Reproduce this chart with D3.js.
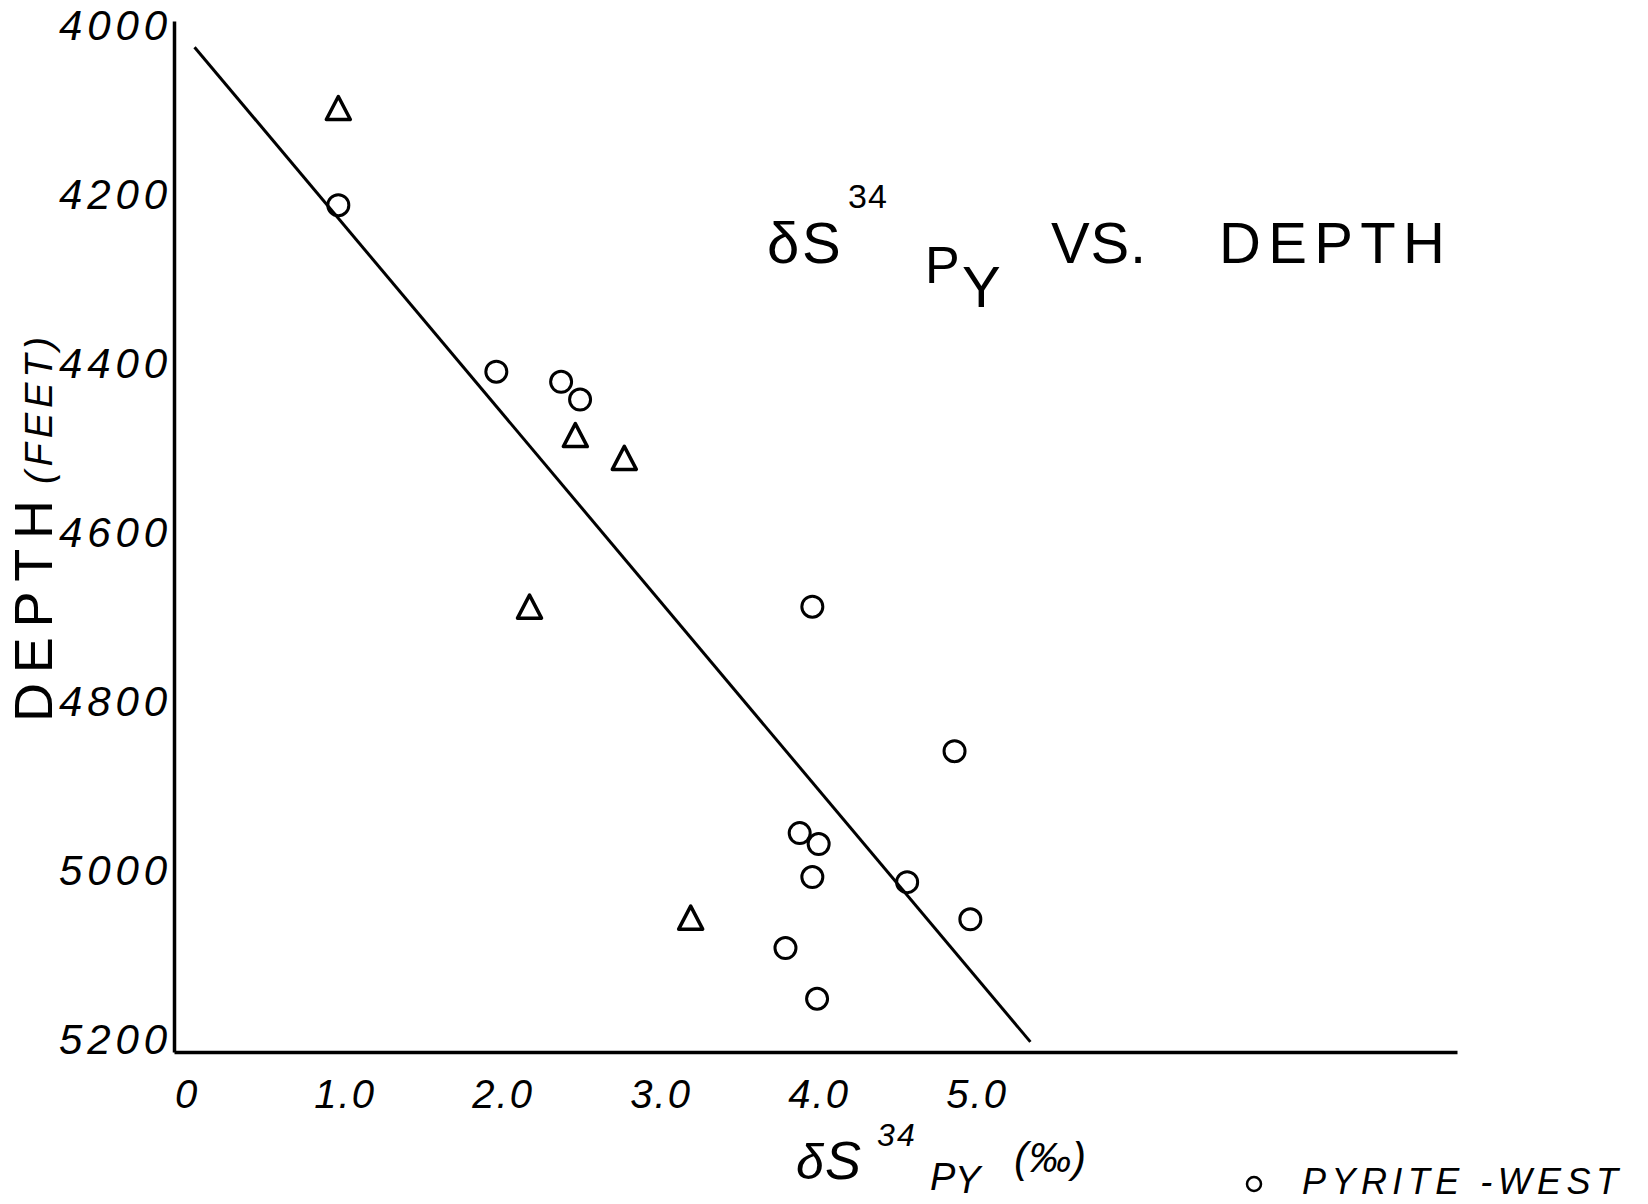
<!DOCTYPE html>
<html><head><meta charset="utf-8">
<script src="https://cdn.jsdelivr.net/npm/d3@7"></script>
<style>html,body{margin:0;padding:0;background:#fff;overflow:hidden}</style>
</head><body>
<svg id="chart" width="1648" height="1204"></svg>
<script>
// ---- data ----
const yTickValues = [4000, 4200, 4400, 4600, 4800, 5000, 5200];
const yTickLabels = ["4000", "4200", "4400", "4600", "4800", "5000", "5200"];
const xTickValues = [0, 1, 2, 3, 4, 5];
const xTickLabels = ["0", "1.0", "2.0", "3.0", "4.0", "5.0"];

// Pyrite - West (circles)
const westX     = [0.96, 1.96, 2.37, 2.49, 3.96, 4.86, 3.88, 4.00, 3.96, 4.56, 4.96, 3.79, 3.99];
const westDepth = [4198, 4395, 4407, 4428, 4673, 4844, 4941, 4954, 4993, 4999, 5043, 5077, 5137];

// second series (triangles)
const triX     = [0.96, 2.46, 2.77, 2.17, 3.19];
const triDepth = [4083, 4470, 4497, 4673, 5041];

// fitted line end points
const fitX     = [0.05, 5.34];
const fitDepth = [4011, 5188];

const legendLabel = "PYRITE -WEST";

// ---- drawing ----
const FONT = "'Liberation Sans Narrow','Liberation Sans',sans-serif";
const svg = d3.select("#chart");
svg.append("rect").attr("width", 1648).attr("height", 1204).attr("fill", "#fff");

const x = d3.scaleLinear().domain([-0.08, 8.04]).range([174, 1457]);
const y = d3.scaleLinear().domain([3980, 5200]).range([21, 1052]);

// x axis
const xAxis = svg.append("g").attr("transform", `translate(0,${y(5200)})`)
  .call(d3.axisBottom(x).tickValues(xTickValues).tickFormat((d, i) => xTickLabels[i])
        .tickSize(0).tickSizeOuter(0).tickPadding(28));
xAxis.select(".domain").attr("stroke", "#000").attr("stroke-width", 3.5);
xAxis.selectAll("text").attr("font-family", FONT).attr("font-size", 40)
  .attr("font-style", "italic").attr("fill", "#000").attr("letter-spacing", 2);

// y axis
const yAxis = svg.append("g").attr("transform", `translate(${x(-0.08)},0)`)
  .call(d3.axisLeft(y).tickValues(yTickValues).tickFormat((d, i) => yTickLabels[i])
        .tickSize(0).tickSizeOuter(0).tickPadding(7));
yAxis.select(".domain").attr("stroke", "#000").attr("stroke-width", 3.5);
yAxis.selectAll("text").attr("font-family", FONT).attr("font-size", 42)
  .attr("font-style", "italic").attr("fill", "#000").attr("y", -12)
  .attr("textLength", 108).attr("lengthAdjust", "spacing");

// fit line
svg.append("path")
  .datum(fitX.map((v, i) => [v, fitDepth[i]]))
  .attr("d", d3.line().x(d => x(d[0])).y(d => y(d[1])))
  .attr("fill", "none").attr("stroke", "#000").attr("stroke-width", 3);

// circles
svg.append("g").selectAll("circle")
  .data(westX.map((v, i) => ({x: v, d: westDepth[i]})))
  .join("circle")
  .attr("cx", d => x(d.x)).attr("cy", d => y(d.d)).attr("r", 10.5)
  .attr("fill", "none").attr("stroke", "#000").attr("stroke-width", 3);

// triangles
const triPath = (w, h) => `M0,${-h/2}L${w/2},${h/2}L${-w/2},${h/2}Z`;
svg.append("g").selectAll("path")
  .data(triX.map((v, i) => ({x: v, d: triDepth[i]})))
  .join("path")
  .attr("transform", d => `translate(${x(d.x)},${y(d.d)})`)
  .attr("d", triPath(24, 23))
  .attr("fill", "none").attr("stroke", "#000").attr("stroke-width", 3.5)
  .attr("stroke-linejoin", "round");

// title
const title = svg.append("g").attr("font-family", FONT).attr("fill", "#000");
function txt(g, s, px, py, size, len, style) {
  return g.append("text").attr("x", px).attr("y", py).attr("font-size", size)
    .attr("font-style", style || "normal")
    .attr("textLength", len).attr("lengthAdjust", "spacing").text(s);
}
txt(title, "δ", 767, 263, 58, 22);
txt(title, "S", 802, 263, 58, 38);
txt(title, "3", 848, 208, 34, 16);
txt(title, "4", 868, 208, 34, 16);
txt(title, "P", 925, 283, 52, 22);
txt(title, "Y", 962, 307, 58, 36);
txt(title, "VS.", 1051, 263, 58, 95);
txt(title, "DEPTH", 1219, 263, 58, 226);

// y axis label (rotated)
const yl = svg.append("g").attr("transform", "translate(52,722) rotate(-90)")
  .attr("font-family", FONT).attr("fill", "#000");
txt(yl, "DEPTH", 0, 0, 54, 222);
txt(yl, "(FEET)", 238, 0, 38, 147, "italic");

// x axis label
const xl = svg.append("g").attr("font-family", FONT).attr("fill", "#000");
txt(xl, "δ", 796, 1179, 50, 20, "italic");
txt(xl, "S", 825, 1179, 54, 37, "italic");
txt(xl, "3", 877, 1146, 32, 15, "italic");
txt(xl, "4", 897, 1146, 32, 16, "italic");
txt(xl, "P", 930, 1190, 38, 22, "italic");
txt(xl, "Y", 955, 1193, 38, 32, "italic");
txt(xl, "(‰)", 1014, 1172, 42, 72, "italic");

// legend
svg.append("circle").attr("cx", 1254).attr("cy", 1184).attr("r", 7)
  .attr("fill", "none").attr("stroke", "#000").attr("stroke-width", 2.5);
txt(svg.append("g").attr("font-family", FONT).attr("fill", "#000"),
    legendLabel, 1302, 1194, 36, 316, "italic");
</script>
</body></html>
